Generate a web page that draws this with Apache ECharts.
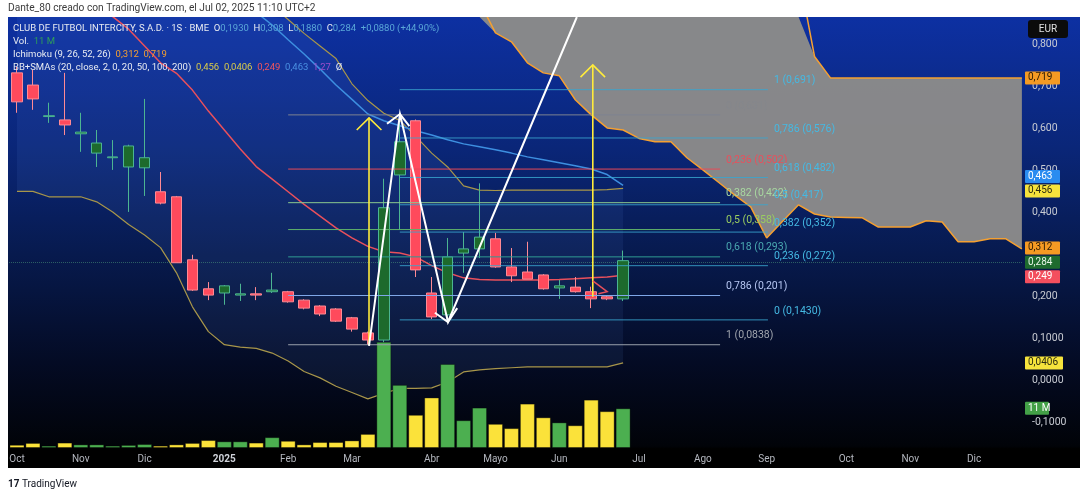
<!DOCTYPE html>
<html>
<head>
<meta charset="utf-8">
<title>CLUB DE FUTBOL INTERCITY 1S</title>
<script src="https://cdn.jsdelivr.net/npm/echarts@6/dist/echarts.min.js"></script>
<style>
  html, body { margin: 0; padding: 0; background: #fff; }
  #chart { width: 1080px; height: 493px; }
</style>
</head>
<body>
<div id="chart"></div>
<script>
// velas semanales, indice 0 = semana del 07/10/2024, 38 = semana del 30/06/2025
const opens  = [0.731, 0.702, 0.627, 0.619, 0.586, 0.540, 0.529, 0.507, 0.505, 0.448, 0.436, 0.286, 0.217, 0.207, 0.202, 0.205, 0.210, 0.210, 0.190, 0.176, 0.169, 0.148, 0.112, 0.095, 0.488, 0.617, 0.207, 0.155, 0.302, 0.312, 0.336, 0.269, 0.257, 0.250, 0.219, 0.221, 0.210, 0.198, 0.193];
const highs  = [0.745, 0.738, 0.660, 0.731, 0.636, 0.595, 0.571, 0.560, 0.669, 0.495, 0.438, 0.298, 0.233, 0.226, 0.229, 0.221, 0.255, 0.212, 0.192, 0.178, 0.171, 0.150, 0.115, 0.479, 0.631, 0.620, 0.245, 0.338, 0.352, 0.468, 0.350, 0.314, 0.329, 0.252, 0.238, 0.245, 0.222, 0.200, 0.308];
const lows   = [0.636, 0.643, 0.612, 0.583, 0.543, 0.507, 0.500, 0.400, 0.438, 0.418, 0.279, 0.212, 0.190, 0.179, 0.188, 0.190, 0.207, 0.184, 0.168, 0.152, 0.138, 0.115, 0.0838, 0.090, 0.357, 0.245, 0.145, 0.143, 0.255, 0.290, 0.267, 0.233, 0.240, 0.215, 0.193, 0.208, 0.171, 0.190, 0.188];
const closes = [0.662, 0.669, 0.629, 0.607, 0.590, 0.564, 0.531, 0.557, 0.529, 0.421, 0.279, 0.214, 0.202, 0.224, 0.205, 0.202, 0.214, 0.186, 0.171, 0.157, 0.140, 0.121, 0.095, 0.410, 0.567, 0.262, 0.150, 0.293, 0.312, 0.340, 0.269, 0.248, 0.240, 0.217, 0.224, 0.210, 0.193, 0.193, 0.284];
// volumen en millones
const volumes = [0.9, 1.4, 0.65, 1.5, 1.0, 1.0, 0.65, 0.85, 1.1, 0.65, 1.0, 1.4, 2.2, 1.85, 1.85, 1.5, 3.0, 2.0, 1.0, 1.65, 1.65, 2.1, 3.9, 29.4, 17.5, 9.2, 14.0, 23.3, 7.7, 11.2, 6.7, 5.5, 12.3, 8.5, 7.1, 6.3, 13.4, 10.2, 11.0];

// BB (20, 2) y SMAs
const sma20   = [1.05, 1.01, 0.97, 0.94, 0.91, 0.89, 0.865, 0.835, 0.795, 0.755, 0.73, 0.69, 0.64, 0.595, 0.55, 0.508, 0.478, 0.448, 0.418, 0.39, 0.362, 0.338, 0.318, 0.305, 0.302, 0.293, 0.272, 0.255, 0.243, 0.239, 0.238, 0.238, 0.238, 0.238, 0.239, 0.241, 0.243, 0.245, 0.249];
const bbUpper = [1.651, 1.571, 1.504, 1.444, 1.384, 1.356, 1.33, 1.30, 1.245, 1.195, 1.205, 1.206, 1.165, 1.106, 1.022, 0.941, 0.89, 0.858, 0.825, 0.795, 0.765, 0.705, 0.665, 0.635, 0.618, 0.58, 0.54, 0.507, 0.462, 0.452, 0.451, 0.452, 0.452, 0.452, 0.452, 0.452, 0.452, 0.453, 0.456];
const bbLower = [0.449, 0.449, 0.436, 0.436, 0.436, 0.424, 0.40, 0.37, 0.345, 0.315, 0.255, 0.174, 0.115, 0.084, 0.078, 0.075, 0.064, 0.045, 0.02, 0.005, -0.015, -0.03, -0.045, -0.032, -0.02, -0.02, -0.019, -0.005, 0.019, 0.024, 0.027, 0.029, 0.031, 0.031, 0.031, 0.031, 0.031, 0.031, 0.0406];
const sma50Start = 14;
const sma50   = [0.905, 0.875, 0.845, 0.81, 0.776, 0.74, 0.702, 0.668, 0.633, 0.617, 0.605, 0.593, 0.583, 0.572, 0.562, 0.555, 0.548, 0.540, 0.531, 0.524, 0.517, 0.510, 0.502, 0.489, 0.463];

// Ichimoku, nube desplazada 26 semanas (indices 28..63)
const kumoStart = 28;
const spanLower = [0.95, 0.90, 0.826, 0.805, 0.755, 0.731, 0.724, 0.667, 0.631, 0.600, 0.595, 0.575, 0.567, 0.567, 0.529, 0.50, 0.47, 0.44, 0.412, 0.338, 0.378, 0.417, 0.395, 0.388, 0.387, 0.386, 0.364, 0.364, 0.364, 0.379, 0.376, 0.329, 0.329, 0.336, 0.336, 0.312];
const spanUpper = [1.0, 1.0, 1.0, 1.0, 1.0, 1.0, 1.0, 1.0, 1.0, 1.0, 1.0, 1.0, 1.0, 1.0, 1.0, 1.0, 1.0, 1.0, 1.0, 1.0, 1.0, 0.97, 0.77, 0.719, 0.719, 0.719, 0.719, 0.719, 0.719, 0.719, 0.719, 0.719, 0.719, 0.719, 0.719, 0.719];

// ejes
const monthTicks  = [0, 4, 8, 13, 17, 21, 26, 30, 34, 39, 43, 47, 52, 56, 60];
const monthLabels = ['Oct', 'Nov', 'Dic', '2025', 'Feb', 'Mar', 'Abr', 'Mayo', 'Jun', 'Jul', 'Ago', 'Sep', 'Oct', 'Nov', 'Dic'];
const priceTicks      = [-0.1, 0, 0.1, 0.2, 0.4, 0.5, 0.6, 0.7, 0.8];
const priceTickLabels = ['-0,1000', '0,0000', '0,1000', '0,200', '0,400', '0,500', '0,600', '0,700', '0,800'];

// Fibonacci
const fibARange  = [17.0, 44.08];
const fibAPrices = [0.631, 0.502, 0.422, 0.358, 0.293, 0.201, 0.0838];
const fibATexts  = ['0 (0,631)', '0,236 (0,502)', '0,382 (0,422)', '0,5 (0,358)', '0,618 (0,293)', '0,786 (0,201)', '1 (0,0838)'];
const fibBRange  = [24.0, 47.08];
const fibBPrices = [0.143, 0.272, 0.352, 0.417, 0.482, 0.576, 0.691];
const fibBTexts  = ['0 (0,1430)', '0,236 (0,272)', '0,382 (0,352)', '0,5 (0,417)', '0,618 (0,482)', '0,786 (0,576)', '1 (0,691)'];

// dibujos (semana, precio)
const arrowA     = [[22.07, 0.083], [22.07, 0.624]];
const arrowAHead = [[21.3, 0.595], [22.07, 0.624], [22.85, 0.595]];
const arrowB     = [[36.1, 0.198], [36.1, 0.75]];
const arrowBHead = [[35.33, 0.721], [36.1, 0.75], [36.87, 0.721]];
const zigzag     = [[22.07, 0.081], [24.01, 0.633], [27.02, 0.138], [35.1, 0.864]];
const zigHead1   = [[23.2, 0.610], [24.01, 0.633], [24.6, 0.604]];
const zigHead2   = [[26.2, 0.160], [27.02, 0.138], [27.6, 0.171]];
const redMark    = [[36.1, 0.236], [37.0, 0.210], [36.45, 0.205]];

const lastClose = 0.284;

// ---------------------------------------------------------------
const FONT = 'Roboto, "Liberation Sans", sans-serif';
const UP_FILL = '#1d6a2c', UP_LINE = '#4cb592';
const DN_FILL = '#ff4a5c', DN_LINE = '#ff8a94';
const VOL_UP = '#4caf50', VOL_DN = '#fbe23a';
const fibAColors = ['#7d8290', '#e84a57', '#8cc98e', '#5fb36a', '#2f9c93', '#7fa7e8', '#9aa0aa'];
const fibALabelColors = ['#85878c', '#e8505c', '#a8d8a0', '#9acd60', '#4aa8b0', '#b6c6f2', '#a0a5ae'];
const fibBColor = '#3aa6cf', fibBLabelColor = '#45b9e3';

const chart = echarts.init(document.getElementById('chart'));

const xy = (arr, start) => arr.map((v, i) => [i + (start || 0), v]);
const candleData = opens.map((o, i) => [i, o, closes[i], lows[i], highs[i]]);
const volData = volumes.map((v, i) => ({
  value: [i, v],
  itemStyle: { color: closes[i] >= opens[i] ? VOL_UP : VOL_DN }
}));

const fibLines = [];
fibAPrices.forEach((p, i) => fibLines.push({
  coords: [[fibARange[0], p], [fibARange[1], p]],
  lineStyle: { color: fibAColors[i] }
}));
fibBPrices.forEach((p) => fibLines.push({
  coords: [[fibBRange[0], p], [fibBRange[1], p]],
  lineStyle: { color: fibBColor, opacity: 0.85 }
}));

const drawings = [
  { coords: arrowA, lineStyle: { color: '#ffeb3b', width: 1.6 } },
  { coords: arrowAHead, lineStyle: { color: '#ffeb3b', width: 1.6 } },
  { coords: arrowB, lineStyle: { color: '#ffeb3b', width: 1.6 } },
  { coords: arrowBHead, lineStyle: { color: '#ffeb3b', width: 1.6 } },
  { coords: zigzag, lineStyle: { color: '#ffffff', width: 2 } },
  { coords: zigHead1, lineStyle: { color: '#ffffff', width: 2 } },
  { coords: zigHead2, lineStyle: { color: '#ffffff', width: 2 } },
  { coords: redMark, lineStyle: { color: '#e8505c', width: 1.5 } }
];

const plainLine = (name, data, color, width, z) => ({
  name, type: 'line', data, showSymbol: false, symbol: 'none',
  lineStyle: { color, width }, z: z || 2, silent: true
});

// relleno entre dos curvas (nube / bandas), recortado al area del grafico
const bandFill = (upper, lower, start, fill, z) => ({
  type: 'custom', silent: true, z, data: [[start, 0]],
  renderItem: (params, api) => {
    const pts = [];
    upper.forEach((v, i) => pts.push(api.coord([i + start, v])));
    for (let i = lower.length - 1; i >= 0; i--) pts.push(api.coord([i + start, lower[i]]));
    const cs = params.coordSys;
    const clipped = echarts.graphic.clipPointsByRect(pts, { x: cs.x, y: cs.y, width: cs.width, height: cs.height });
    return { type: 'polygon', shape: { points: clipped }, style: { fill } };
  }
});

const bg = new echarts.graphic.LinearGradient(0, 0, 0, 1, [
  { offset: 0, color: '#0d30a2' }, { offset: 0.035, color: '#0d30a2' },
  { offset: 0.30, color: '#0a2678' }, { offset: 0.515, color: '#071a4e' },
  { offset: 0.735, color: '#040b24' }, { offset: 0.905, color: '#010308' },
  { offset: 0.91, color: '#000000' }, { offset: 1, color: '#000000' }
]);

const option = {
  animation: false,
  backgroundColor: bg,
  grid: { left: 9, right: 57, top: 17, bottom: 45 },
  xAxis: {
    type: 'value', min: -0.5, max: 63.07,
    axisLine: { show: false }, axisTick: { show: false }, splitLine: { show: false },
    axisLabel: {
      customValues: monthTicks,
      color: '#b4b7bf', fontSize: 10, fontFamily: FONT, margin: 6,
      formatter: v => {
        const t = monthLabels[monthTicks.indexOf(Math.round(v))] || '';
        return t === '2025' ? '{b|2025}' : t;
      },
      rich: { b: { fontWeight: 'bold', color: '#d0d3da', fontSize: 10, fontFamily: FONT } }
    }
  },
  yAxis: [{
    type: 'value', position: 'right', min: -0.162, max: 0.864, scale: true,
    axisLine: { show: false }, axisTick: { show: false }, splitLine: { show: false },
    axisLabel: {
      customValues: priceTicks, margin: 9, color: '#c9ccd3', fontSize: 10.5, fontFamily: FONT,
      formatter: v => {
        let k = 0;
        priceTicks.forEach((t, i) => { if (Math.abs(t - v) < Math.abs(priceTicks[k] - v)) k = i; });
        return priceTickLabels[k];
      }
    }
  }, {
    type: 'value', min: 0, max: 119.4, show: false
  }],
  series: [
    bandFill(bbUpper, bbLower, 0, 'rgba(120,160,255,0.08)', 1),
    bandFill(spanUpper, spanLower, kumoStart, 'rgba(138,138,138,0.98)', 2),
    plainLine('Lead A', xy(spanLower, kumoStart), '#f5a031', 1.5, 3),
    plainLine('Lead B', xy(spanUpper, kumoStart), '#f5a031', 1.5, 3),
    plainLine('BB sup', xy(bbUpper), '#a8964a', 1.2, 3),
    plainLine('BB inf', xy(bbLower), '#a8964a', 1.2, 3),
    plainLine('SMA 20', xy(sma20), '#e9505c', 1.5, 3),
    plainLine('SMA 50', xy(sma50, sma50Start), '#3d8fe0', 1.5, 3),
    {
      name: 'Vol', type: 'bar', yAxisIndex: 1, data: volData, barWidth: 15,
      itemStyle: { borderColor: 'rgba(0,0,0,0.35)', borderWidth: 1 }, silent: true, z: 4
    },
    {
      name: 'INTERCITY', type: 'candlestick', data: candleData,
      encode: { x: 0, y: [1, 2, 3, 4] }, barWidth: 11, silent: true, z: 5,
      itemStyle: { color: UP_FILL, color0: DN_FILL, borderColor: UP_LINE, borderColor0: DN_LINE, borderWidth: 1 },
      markLine: {
        symbol: 'none', silent: true, label: { show: false },
        lineStyle: { color: 'rgba(90,180,130,0.45)', type: 'dotted', width: 1 },
        data: [{ yAxis: lastClose }]
      }
    },
    {
      type: 'lines', coordinateSystem: 'cartesian2d', polyline: true, silent: true, z: 6,
      lineStyle: { width: 1, opacity: 1 }, data: fibLines
    },
    {
      type: 'lines', coordinateSystem: 'cartesian2d', polyline: true, silent: true, z: 7,
      lineStyle: { width: 2, opacity: 1 }, data: drawings
    }
  ]
};
chart.setOption(option);

// textos y etiquetas sobre la escala de la libreria
const px = v => chart.convertToPixel({ xAxisIndex: 0 }, v);
const py = v => chart.convertToPixel({ yAxisIndex: 0 }, v);
const pv = v => chart.convertToPixel({ yAxisIndex: 1 }, v);

const txt = (x, y, text, fill, extra) => ({
  type: 'text', x, y, z: 150,
  style: Object.assign({ text, fill, font: '10.5px ' + FONT, align: 'left', verticalAlign: 'middle',
    textAlign: 'left', textVerticalAlign: 'middle' }, extra || {})
});

const els = [];
// margenes blancos (cabecera, izquierda, pie)
els.push({ type: 'rect', z: 100, shape: { x: 0, y: 0, width: 1080, height: 17 }, style: { fill: '#ffffff' } });
els.push({ type: 'rect', z: 100, shape: { x: 0, y: 0, width: 8, height: 493 }, style: { fill: '#ffffff' } });
els.push({ type: 'rect', z: 100, shape: { x: 0, y: 468, width: 1080, height: 25 }, style: { fill: '#ffffff' } });

// cabecera y pie
els.push(txt(8, 8, 'Dante_80 creado con TradingView.com, el Jul 02, 2025 11:10 UTC+2', '#3b3b3b', { font: '10.2px ' + FONT }));
els.push(txt(8, 484, '{l|17} TradingView', '#131722', {
  font: '10px ' + FONT,
  rich: { l: { font: 'bold 10px ' + FONT, fill: '#131722' } }
}));

// leyenda
const LF = '9.5px ' + FONT;
const legendRich = {
  w: { fill: '#e8ebf2', font: LF },
  v: { fill: '#5aa7d8', font: LF },
  g: { fill: '#2e9e5a', font: LF },
  o: { fill: '#f5a031', font: LF },
  y: { fill: '#d9cb4a', font: LF },
  r: { fill: '#f0555f', font: LF },
  b: { fill: '#4a90e2', font: LF },
  p: { fill: '#9c4dcc', font: LF }
};
const legendLines = [
  '{w|CLUB DE FUTBOL INTERCITY, S.A.D. · 1S · BME}  {w|O}{v|0,1930}  {w|H}{v|0,308}  {w|L}{v|0,1880}  {w|C}{v|0,284}  {v|+0,0880 (+44,90%)}',
  '{w|Vol.}  {g|11 M}',
  '{w|Ichimoku (9, 26, 52, 26)}  {o|0,312}  {o|0,719}',
  '{w|BB+SMAs (20, close, 2, 0, 20, 50, 100, 200)}  {y|0,456}  {y|0,0406}  {r|0,249}  {b|0,463}  {p|1,27}  {w|Ø}'
];
[29, 42, 55, 68].forEach((y, i) => els.push(txt(13, y, legendLines[i], '#e8ebf2', { font: LF, rich: legendRich })));

// etiquetas Fibonacci
fibAPrices.forEach((p, i) => els.push(txt(px(fibARange[1]) + 6, py(p) - 9, fibATexts[i], fibALabelColors[i])));
fibBPrices.forEach((p, i) => els.push(txt(px(fibBRange[1]) + 6, py(p) - 9, fibBTexts[i], fibBLabelColor)));

// marcas en la escala de precios
const badge = (yPix, text, bg, fg, w) => {
  els.push({ type: 'rect', z: 160, shape: { x: 1025, y: yPix - 6.5, width: w || 35, height: 13, r: 1 }, style: { fill: bg } });
  els.push(Object.assign(txt(1028, yPix, text, fg, { font: '10px ' + FONT }), { z: 161 }));
};
badge(py(0.719), '0,719', '#f59a23', '#2a1a05');
badge(py(0.463) - 9, '0,463', '#2a8cf0', '#ffffff');
badge(py(0.456) + 2.5, '0,456', '#f6e33c', '#2b2b10');
badge(py(0.312) - 1, '0,312', '#f59a23', '#2a1a05');
badge(py(lastClose) + 1.5, '0,284', '#1e6b2e', '#e6f4e6');
badge(py(0.249) + 1.5, '0,249', '#f44f5e', '#ffffff');
badge(py(0.0406), '0,0406', '#f6e33c', '#2b2b10', 38);
badge(pv(volumes[volumes.length - 1]), '11 M', '#43a047', '#ffffff', 24);

// moneda
els.push({ type: 'rect', z: 160, shape: { x: 1028, y: 20, width: 40, height: 18, r: 3 }, style: { fill: '#0b0b0b' } });
els.push(Object.assign(txt(1048, 29, 'EUR', '#e0e0e0', { font: '10px ' + FONT, align: 'center', textAlign: 'center' }), { z: 161 }));

chart.setOption({ graphic: { elements: els } });
</script>
</body>
</html>
